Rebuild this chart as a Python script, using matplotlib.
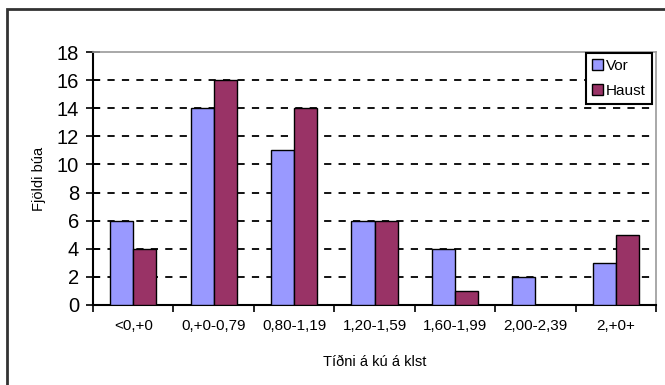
import matplotlib
matplotlib.use("Agg")
import matplotlib.pyplot as plt
import numpy as np
from matplotlib.patches import Rectangle

categories = ["<0,+0", "0,+0-0,79", "0,80-1,19", "1,20-1,59", "1,60-1,99", "2,00-2,39", "2,+0+"]
vor = [6, 14, 11, 6, 4, 2, 3]
haust = [4, 16, 14, 6, 1, 0, 5]
yticks = [0, 2, 4, 6, 8, 10, 12, 14, 16, 18]

plt.rcParams['font.family'] = ['Liberation Sans', 'DejaVu Sans']

W, H = 665, 385
fig = plt.figure(figsize=(W/100, H/100), dpi=100)
fig.patches.append(Rectangle((7/W, -0.1), 1.2, 1 - 9/H + 0.1, transform=fig.transFigure,
                             fill=False, edgecolor='#333333', linewidth=2.0))

ax = fig.add_axes([93/W, 1 - 305/H, (656-93)/W, (305-52)/H])
x = np.arange(len(categories))
bw = 0.286
ax.bar(x - bw/2, vor, bw, color='#9999FF', edgecolor='black', linewidth=1.0, label='Vor', zorder=3)
ax.bar(x + bw/2, haust, bw, color='#993366', edgecolor='black', linewidth=1.0, label='Haust', zorder=3)

ax.set_xlim(-0.5, len(categories) - 0.5)
ax.set_ylim(0, 18)
ax.set_yticks(yticks)
ax.set_yticklabels([str(v) for v in yticks], fontsize=14.5)
for v in yticks[1:-1]:
    ax.axhline(v, color='black', linestyle=(0, (4, 4)), linewidth=1.3, zorder=1)

ax.set_xticks(np.arange(len(categories) + 1) - 0.5, minor=False)
ax.set_xticklabels([])
ax.set_xticks(x, minor=True)
ax.set_xticklabels(categories, minor=True, fontsize=11)
ax.tick_params(axis='x', which='minor', length=0, pad=10)
ax.tick_params(axis='x', which='major', length=5, direction='out', width=1.2)
ax.tick_params(axis='y', length=10, direction='inout', width=1.2, pad=5)

for s in ['left', 'bottom']:
    ax.spines[s].set_color('black')
    ax.spines[s].set_linewidth(1.5)
for s in ['top', 'right']:
    ax.spines[s].set_color('#999999')
    ax.spines[s].set_linewidth(1.2)

ax.set_ylabel('Fjöldi búa', fontsize=10.5, labelpad=8)
ax.set_xlabel('Tíðni á kú á klst', fontsize=10.5, labelpad=16)

leg = ax.legend(loc='upper right', bbox_to_anchor=(652/W, 1 - 53/H), bbox_transform=fig.transFigure,
                prop={'size': 11}, frameon=True, fancybox=False, framealpha=1, edgecolor='black',
                handlelength=0.7, handleheight=0.7, handletextpad=0.2, borderpad=0.4,
                labelspacing=0.7, borderaxespad=0)
leg.get_frame().set_linewidth(1.5)

fig.savefig('out.png', dpi=100)
